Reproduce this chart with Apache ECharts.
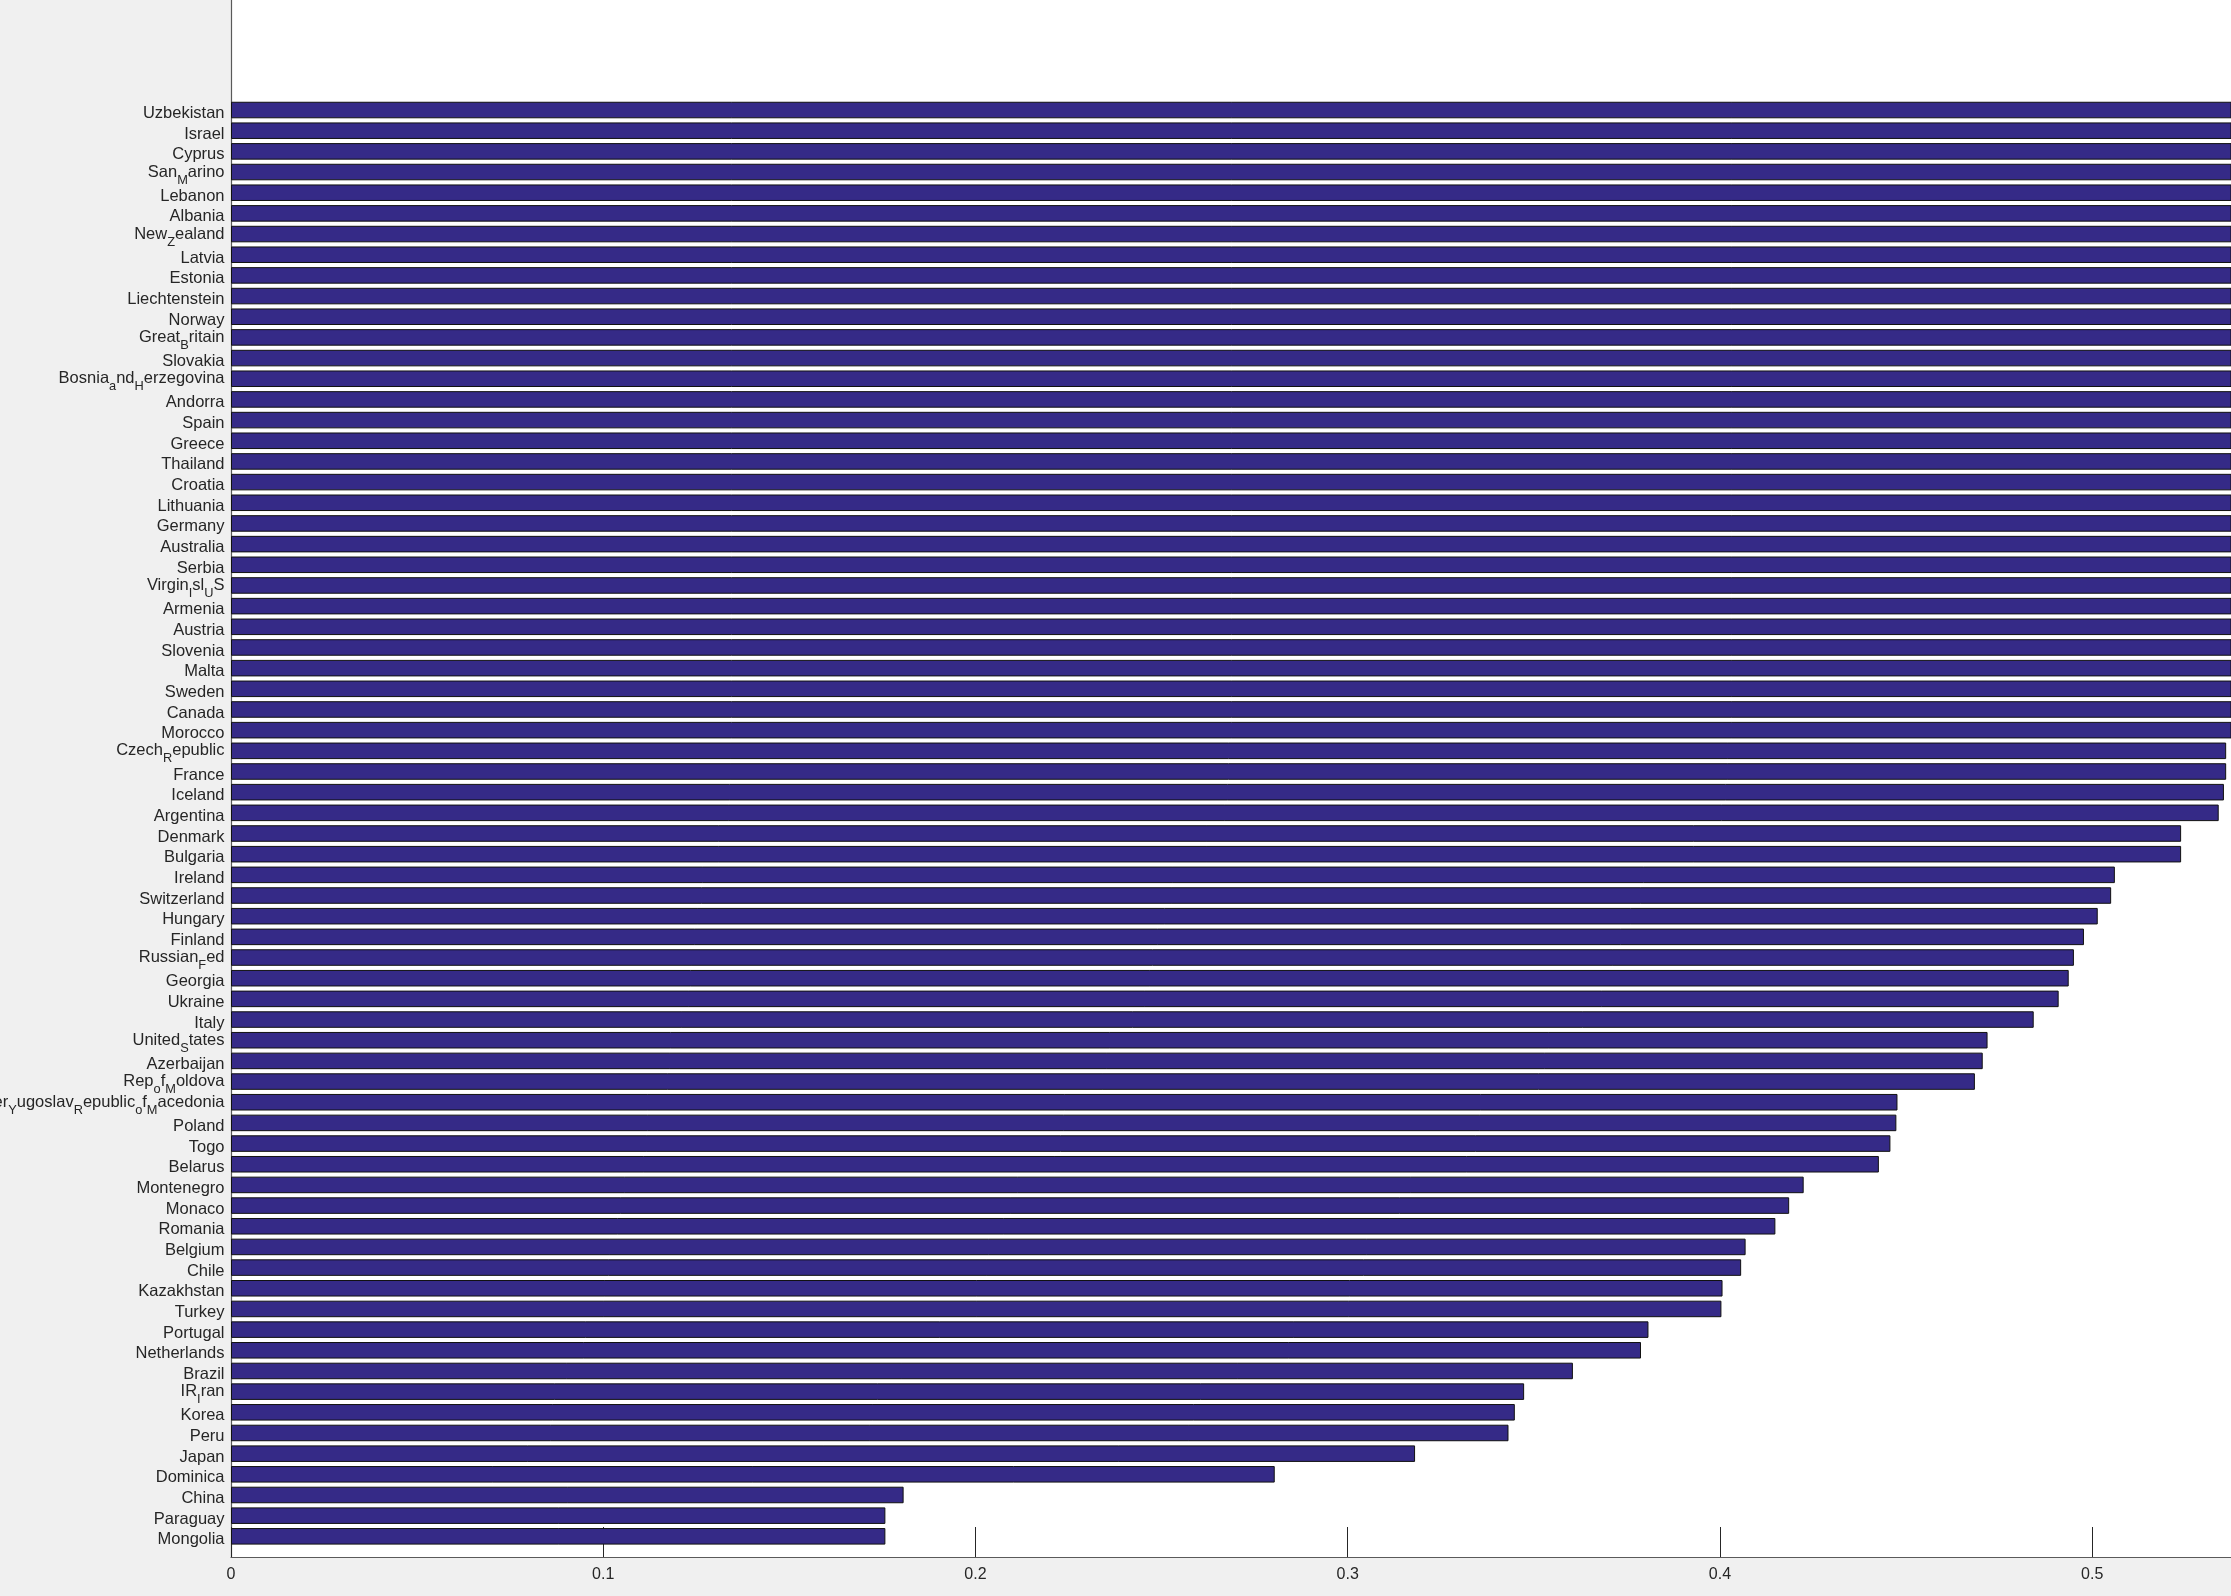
<!DOCTYPE html>
<html>
<head>
<meta charset="utf-8">
<title>barh</title>
<script src="https://cdn.jsdelivr.net/npm/echarts@6.0.0/dist/echarts.min.js"></script>
<style>
html, body { margin: 0; padding: 0; background: #f0f0f0; overflow: hidden; }
#main { width: 2231px; height: 1596px; }
</style>
</head>
<body>
<div id="main"></div>
<script>
// top to bottom, names as they were typed (underscore = TeX subscript)
var countries = [
    'Uzbekistan', 'Israel', 'Cyprus', 'San_Marino', 'Lebanon', 'Albania', 'New_Zealand',
    'Latvia', 'Estonia', 'Liechtenstein', 'Norway', 'Great_Britain', 'Slovakia',
    'Bosnia_and_Herzegovina', 'Andorra', 'Spain', 'Greece', 'Thailand', 'Croatia',
    'Lithuania', 'Germany', 'Australia', 'Serbia', 'Virgin_Isl_US', 'Armenia', 'Austria',
    'Slovenia', 'Malta', 'Sweden', 'Canada', 'Morocco', 'Czech_Republic', 'France',
    'Iceland', 'Argentina', 'Denmark', 'Bulgaria', 'Ireland', 'Switzerland', 'Hungary',
    'Finland', 'Russian_Fed', 'Georgia', 'Ukraine', 'Italy', 'United_States', 'Azerbaijan',
    'Rep_of_Moldova', 'Former_Yugoslav_Republic_of_Macedonia', 'Poland', 'Togo', 'Belarus',
    'Montenegro', 'Monaco', 'Romania', 'Belgium', 'Chile', 'Kazakhstan', 'Turkey',
    'Portugal', 'Netherlands', 'Brazil', 'IR_Iran', 'Korea', 'Peru', 'Japan', 'Dominica',
    'China', 'Paraguay', 'Mongolia'
];
// the first 31 run past the cropped right edge, so those are guesses
var values = [
    0.80, 0.76, 0.74, 0.72, 0.70, 0.69, 0.68,
    0.67, 0.66, 0.65, 0.64, 0.63, 0.625,
    0.62, 0.61, 0.60, 0.595, 0.59, 0.585,
    0.58, 0.575, 0.57, 0.565, 0.56, 0.555, 0.552,
    0.549, 0.546, 0.543, 0.541, 0.539, 0.5360, 0.5360,
    0.5354, 0.5340, 0.5239, 0.5239, 0.5061, 0.5051, 0.5015,
    0.4978, 0.4951, 0.4937, 0.4910, 0.4843, 0.4719, 0.4706,
    0.4685, 0.4477, 0.4474, 0.4458, 0.4427,
    0.4225, 0.4186, 0.4149, 0.4069, 0.4057, 0.4007, 0.4004,
    0.3808, 0.3788, 0.3605, 0.3474, 0.3449, 0.3432, 0.3181, 0.2804,
    0.1807, 0.1758, 0.1758
];
var xTicks = [0, 0.1, 0.2, 0.3, 0.4, 0.5];
var xMax = 0.5373;   // picture is cut here
var padTop = 6;      // empty slots above the first bar

var cats = [], data = [];
for (var i = 0; i < padTop; i++) { cats.push('pad' + i); data.push('-'); }
for (var i = 0; i < countries.length; i++) { cats.push(countries[i]); data.push(values[i]); }
cats.push('padEnd'); data.push('-');

// 'a_bc' -> a, subscript b, c  (what the TeX interpreter did to the names)
function texLabel(name) {
    if (name.indexOf('pad') === 0) return '';
    var parts = name.split('_');
    if (parts.length === 1) return '{n|' + name + '}';
    var s = '{m|' + parts[0] + '}';
    for (var i = 1; i < parts.length; i++) {
        s += '{s|' + parts[i].charAt(0) + '}';
        if (parts[i].length > 1) s += '{m|' + parts[i].slice(1) + '}';
    }
    return s;
}

var font = "'Liberation Sans', Arial, Helvetica, sans-serif";
var myChart = echarts.init(document.getElementById('main'));
option = {
    animation: false,
    backgroundColor: '#f0f0f0',
    grid: {
        left: 231, right: 0, top: -14, bottom: 39,
        show: true, backgroundColor: '#ffffff', borderWidth: 0,
        outerBoundsMode: 'none'
    },
    xAxis: {
        type: 'value',
        min: 0,
        max: xMax,
        splitLine: { show: false },
        axisLine: { show: true, lineStyle: { color: '#5a5a5a', width: 1.2 } },
        axisTick: { show: true, inside: true, length: 30, customValues: xTicks, lineStyle: { color: '#262626', width: 1 } },
        axisLabel: { customValues: xTicks, color: '#262626', fontSize: 16, fontFamily: font, margin: 10 }
    },
    yAxis: {
        type: 'category',
        inverse: true,
        boundaryGap: false,
        data: cats,
        axisLine: { show: true, lineStyle: { color: '#5a5a5a', width: 1.2 } },
        axisTick: { show: false },
        splitLine: { show: false },
        axisLabel: {
            interval: 0,
            margin: 6.5,
            padding: [7, 0, 0, 0],
            color: '#262626',
            fontFamily: font,
            fontSize: 16.5,
            formatter: texLabel,
            rich: {
                n: { fontSize: 16.5, lineHeight: 18, color: '#262626', fontFamily: font },
                m: { fontSize: 16.5, lineHeight: 18, color: '#262626', fontFamily: font, padding: [0, 0, 7, 0] },
                s: { fontSize: 12.8, lineHeight: 12, color: '#262626', fontFamily: font, padding: [9, 0, 0, 0] }
            }
        }
    },
    series: [{
        type: 'bar',
        data: data,
        barWidth: '80%',
        clip: true,
        itemStyle: { color: '#352a87', borderColor: '#111111', borderWidth: 1 }
    }]
};
myChart.setOption(option);
</script>
</body>
</html>
